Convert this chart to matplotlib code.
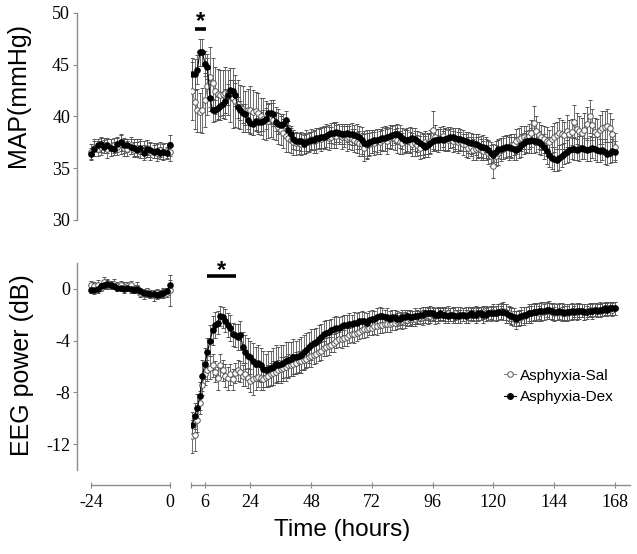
import matplotlib
matplotlib.use("Agg")
import matplotlib.pyplot as plt
from matplotlib.lines import Line2D
import numpy as np

plt.rcParams["axes.unicode_minus"] = False

# time axis: hourly baseline (-24..0) and hourly recovery (1..168)
base_hours = np.arange(-24, 1)
post_hours = np.arange(1, 169)

# ---------------- MAP (mmHg) ----------------
map_sal_base = [36.6, 37.0, 36.9, 37.1, 37.2, 36.9, 37.0, 37.2, 37.1, 37.3, 37.0, 36.9, 37.2,
                36.8, 37.0, 36.9, 36.8, 37.0, 36.6, 36.7, 36.5, 36.8, 36.6, 36.7, 36.6]
map_sal_base_err = [0.7, 0.8, 0.7, 0.8, 0.7, 0.9, 0.8, 0.7, 0.8, 0.9, 0.8, 0.7, 0.8,
                    0.7, 0.8, 0.9, 0.8, 0.7, 0.8, 0.7, 0.8, 0.7, 0.8, 0.7, 0.9]
map_dex_base = [36.4, 36.9, 37.2, 37.3, 37.1, 37.2, 37.0, 36.9, 37.3, 37.5, 37.2, 37.2, 37.1,
                37.0, 36.8, 37.0, 36.5, 36.9, 36.8, 36.6, 36.7, 36.5, 36.6, 36.5, 37.2]
map_dex_base_err = [0.6, 0.7, 0.6, 0.7, 0.6, 0.7, 0.8, 0.6, 0.7, 0.8, 0.7, 0.6, 0.7,
                    0.8, 0.7, 0.6, 0.7, 0.8, 0.7, 0.6, 0.7, 0.6, 0.7, 0.6, 1.0]

map_sal = [42.5, 41.4, 40.6, 40.4, 40.6, 41.6, 42.9, 43.8, 43.2, 42.5,
           42.2, 42.1, 42.2, 42.3, 42.3, 42.1, 41.8, 41.5, 41.2, 40.9,
           40.7, 40.5, 40.6, 40.6, 40.4, 40.5, 40.3, 40.0, 39.8, 39.6,
           39.6, 39.8, 39.7, 39.3, 39.0, 38.7, 38.4, 38.1, 37.9, 37.7,
           37.5, 37.4, 37.4, 37.3, 37.4, 37.6, 37.5, 37.8, 37.6, 37.7,
           37.9, 37.8, 38.0, 38.1, 37.9, 38.0, 38.2, 38.1, 38.3, 38.0,
           38.1, 37.9, 38.0, 37.8, 37.7, 37.5, 37.4, 37.3, 37.0, 37.2,
           37.3, 37.5, 37.4, 37.6, 37.5, 37.7, 37.8, 37.6, 37.9, 38.0,
           37.8, 37.7, 37.5, 37.4, 37.6, 37.7, 37.5, 37.3, 37.4, 37.2,
           37.0, 37.3, 37.5, 37.4, 37.6, 38.7, 38.0, 37.8, 37.9, 38.1,
           37.8, 37.7, 37.9, 37.6, 37.8, 37.5, 37.6, 37.3, 37.2, 37.0,
           37.1, 36.8, 36.9, 37.0, 36.8, 36.7, 36.8, 36.5, 36.2, 35.2,
           36.2, 36.5, 36.8, 36.9, 37.1, 37.0, 37.2, 37.3, 37.6, 37.8,
           37.9, 38.0, 37.8, 38.1, 38.4, 39.4, 38.6, 38.2, 38.0, 37.8,
           37.6, 37.5, 37.8, 38.0, 38.2, 38.4, 38.3, 38.2, 38.6, 38.3,
           38.5, 39.5, 38.8, 38.6, 38.4, 38.7, 39.3, 40.0, 39.2, 38.5,
           38.3, 38.7, 38.9, 39.0, 39.1, 38.9, 38.3, 37.1]
map_sal_err = [2.8, 2.6, 2.1, 1.9, 2.2, 2.6, 2.8, 2.9, 2.5, 2.3,
               2.4, 2.4, 2.3, 2.5, 2.2, 2.6, 2.9, 2.5, 2.3, 2.1,
               2.2, 2.0, 2.1, 2.3, 2.2, 1.9, 2.0, 1.8, 2.0, 1.9,
               1.7, 1.8, 1.9, 1.6, 1.7, 1.5, 1.4, 1.5, 1.3, 1.2,
               1.2, 1.1, 1.0, 1.0, 1.0, 1.1, 0.9, 1.0, 1.1, 1.2,
               1.0, 1.1, 1.0, 1.2, 1.1, 1.0, 1.2, 1.1, 1.0, 1.1,
               1.0, 1.2, 1.1, 1.0, 1.1, 1.0, 1.2, 1.1, 1.3, 1.2,
               1.1, 1.0, 1.1, 1.2, 1.1, 1.0, 1.1, 1.2, 1.0, 1.1,
               1.0, 1.2, 1.1, 1.0, 1.1, 1.2, 1.0, 1.1, 1.2, 1.0,
               1.1, 1.0, 1.1, 1.0, 1.1, 1.8, 1.2, 1.0, 1.1, 1.0,
               1.1, 1.0, 0.9, 1.0, 1.1, 1.0, 0.9, 1.0, 1.1, 1.0,
               0.9, 1.0, 1.1, 1.0, 1.0, 0.9, 1.0, 1.1, 1.0, 1.1,
               1.0, 1.2, 1.1, 1.0, 1.1, 1.2, 1.1, 1.0, 1.2, 1.1,
               1.2, 1.1, 1.3, 1.2, 1.3, 1.6, 1.4, 1.3, 1.2, 1.3,
               1.4, 1.2, 1.3, 1.4, 1.3, 1.5, 1.4, 1.3, 1.5, 1.4,
               1.3, 1.6, 1.5, 1.4, 1.5, 1.6, 1.6, 1.6, 1.5, 1.4,
               1.5, 1.4, 1.6, 1.5, 1.6, 1.4, 1.5, 1.3]

map_dex = [44.1, 44.1, 44.5, 46.2, 46.2, 45.1, 44.8, 41.8, 40.6, 40.6,
           40.8, 41.0, 41.2, 41.5, 42.1, 42.6, 42.5, 42.1, 40.9, 40.6,
           40.3, 40.2, 39.7, 39.4, 39.3, 39.6, 39.5, 39.5, 39.6, 39.8,
           40.3, 40.3, 40.2, 39.5, 39.3, 39.2, 39.3, 39.7, 38.7, 38.3,
           37.8, 37.6, 37.6, 37.6, 37.3, 37.5, 37.6, 37.7, 37.7, 37.9,
           37.9, 38.0, 38.0, 38.1, 38.3, 38.4, 38.4, 38.5, 38.4, 38.3,
           38.3, 38.4, 38.3, 38.3, 38.2, 38.1, 38.0, 37.7, 37.4, 37.3,
           37.5, 37.6, 37.7, 37.7, 37.8, 37.9, 37.9, 38.0, 38.1, 38.2,
           38.3, 38.3, 38.1, 37.9, 37.7, 37.7, 37.8, 37.9, 37.8, 37.6,
           37.4, 37.2, 37.1, 37.2, 37.4, 37.6, 37.7, 37.7, 37.8, 37.7,
           37.8, 37.9, 38.0, 38.0, 37.9, 37.8, 37.8, 37.7, 37.6, 37.5,
           37.4, 37.4, 37.3, 37.2, 37.1, 37.1, 37.0, 36.8, 36.5, 36.3,
           36.6, 36.9, 36.9, 37.0, 37.1, 37.1, 37.0, 36.9, 36.8, 37.0,
           37.2, 37.4, 37.6, 37.6, 37.7, 37.6, 37.6, 37.5, 37.3, 37.1,
           36.7, 36.3, 36.0, 35.9, 35.8, 36.0, 36.2, 36.4, 36.6, 36.8,
           36.9, 36.9, 36.8, 36.9, 37.0, 36.9, 36.8, 36.9, 37.0, 36.9,
           36.8, 36.7, 36.8, 36.6, 36.4, 36.5, 36.7, 36.6]
map_dex_err = [1.6, 1.5, 1.4, 1.3, 1.3, 1.2, 1.2, 1.3, 1.1, 1.0,
               1.1, 1.0, 1.1, 1.2, 1.0, 0.9, 1.0, 1.1, 1.0, 0.9,
               0.9, 1.0, 0.9, 1.0, 1.1, 0.9, 1.0, 0.9, 1.0, 1.0,
               0.9, 1.0, 1.1, 0.9, 1.0, 0.8, 0.9, 0.8, 0.9, 0.8,
               0.9, 0.8, 0.8, 0.9, 0.9, 0.8, 0.9, 0.8, 0.9, 1.0,
               0.9, 1.0, 1.1, 1.0, 0.9, 1.0, 1.1, 1.0, 0.9, 1.0,
               1.0, 0.9, 1.0, 1.1, 1.0, 1.2, 1.1, 1.3, 1.2, 1.4,
               1.2, 1.1, 1.0, 1.1, 1.0, 1.1, 1.2, 1.0, 1.1, 1.0,
               0.9, 1.0, 1.1, 1.0, 1.1, 1.0, 1.2, 1.0, 1.1, 1.0,
               1.1, 1.2, 1.0, 1.1, 1.0, 0.9, 1.0, 1.1, 1.0, 0.9,
               1.0, 1.1, 1.0, 0.9, 1.0, 1.1, 1.0, 1.0, 0.9, 1.0,
               1.0, 0.9, 1.0, 1.1, 1.0, 1.1, 1.0, 0.9, 1.0, 1.0,
               1.0, 0.9, 1.0, 1.1, 1.0, 0.9, 1.0, 1.1, 1.0, 1.0,
               1.1, 1.0, 1.0, 1.1, 1.2, 1.1, 1.0, 1.1, 1.0, 1.2,
               1.3, 1.2, 1.1, 1.2, 1.1, 1.2, 1.1, 1.0, 1.1, 1.2,
               1.0, 1.1, 1.0, 1.2, 1.1, 1.0, 1.1, 1.2, 1.0, 1.1,
               1.2, 1.1, 1.0, 1.2, 1.1, 1.0, 1.1, 1.0]

# ---------------- EEG power (dB) ----------------
eeg_sal_base = [0.3, 0.2, 0.3, 0.1, 0.5, 0.4, 0.3, 0.4, 0.2, 0.3, 0.1, 0.2, 0.3,
                0.0, 0.1, -0.3, -0.4, -0.2, -0.4, -0.5, -0.3, -0.4, -0.3, -0.3, -0.1]
eeg_sal_base_err = [0.3, 0.3, 0.4, 0.3, 0.4, 0.3, 0.3, 0.4, 0.3, 0.3, 0.4, 0.3, 0.3,
                    0.3, 0.4, 0.3, 0.4, 0.3, 0.3, 0.4, 0.3, 0.3, 0.4, 0.3, 1.2]
eeg_dex_base = [-0.1, -0.1, 0.0, 0.2, 0.3, 0.4, 0.3, 0.2, 0.1, 0.1, 0.0, 0.1, 0.0,
                -0.1, 0.0, -0.2, -0.3, -0.3, -0.4, -0.4, -0.5, -0.4, -0.3, -0.2, 0.3]
eeg_dex_base_err = [0.2, 0.3, 0.3, 0.2, 0.3, 0.4, 0.3, 0.2, 0.3, 0.3, 0.2, 0.3, 0.3,
                    0.2, 0.3, 0.3, 0.2, 0.3, 0.3, 0.2, 0.3, 0.2, 0.3, 0.3, 0.4]

eeg_sal = [-11.4, -11.3, -10.1, -8.8, -7.4, -6.6, -6.3, -6.1, -5.9, -6.4,
           -6.9, -5.9, -6.3, -6.7, -6.9, -6.6, -7.0, -6.5, -6.3, -6.4,
           -6.7, -6.6, -6.9, -7.1, -7.0, -6.9, -6.8, -6.9, -7.0, -6.8,
           -6.7, -6.6, -6.5, -6.4, -6.3, -6.2, -6.1, -6.0, -5.9, -5.9,
           -5.8, -5.7, -5.6, -5.6, -5.5, -5.4, -5.3, -5.2, -5.1, -5.0,
           -4.9, -4.8, -4.6, -4.5, -4.4, -4.3, -4.2, -4.0, -3.9, -3.9,
           -3.8, -3.7, -3.6, -3.5, -3.5, -3.4, -3.3, -3.2, -3.1, -3.1,
           -3.0, -3.0, -2.9, -2.9, -2.8, -2.8, -2.7, -2.7, -2.7, -2.6,
           -2.6, -2.5, -2.5, -2.5, -2.4, -2.4, -2.3, -2.3, -2.3, -2.2,
           -2.2, -2.2, -2.1, -2.1, -2.1, -2.0, -2.1, -2.0, -2.0, -1.9,
           -2.0, -1.9, -2.0, -2.0, -1.9, -2.0, -2.1, -2.0, -2.0, -1.9,
           -2.0, -1.9, -1.9, -2.0, -1.9, -1.8, -1.9, -1.9, -1.8, -1.8,
           -1.9, -1.8, -1.7, -1.7, -1.8, -1.9, -2.1, -2.3, -2.4, -2.3,
           -2.2, -2.1, -2.0, -1.9, -1.9, -1.8, -1.8, -1.9, -1.8, -1.8,
           -1.7, -1.7, -1.8, -1.9, -1.8, -1.8, -1.9, -1.8, -1.9, -1.8,
           -1.8, -1.7, -1.8, -1.7, -1.7, -1.8, -1.7, -1.6, -1.7, -1.6,
           -1.6, -1.7, -1.6, -1.6, -1.5, -1.5, -1.6, -1.5]
eeg_sal_err = [1.3, 1.2, 1.0, 0.9, 0.8, 0.8, 0.8, 0.9, 0.9, 0.8,
               0.9, 0.9, 0.8, 0.9, 0.9, 0.8, 0.8, 0.8, 0.8, 0.8,
               0.8, 0.9, 0.8, 0.9, 1.2, 0.9, 0.8, 0.9, 0.8, 0.8,
               0.8, 0.9, 0.9, 0.8, 0.8, 0.9, 0.8, 0.8, 0.9, 0.8,
               0.8, 0.8, 0.8, 0.7, 0.8, 0.7, 0.7, 0.8, 0.7, 0.7,
               0.7, 0.7, 0.6, 0.7, 0.7, 0.6, 0.7, 0.6, 0.6, 0.7,
               0.6, 0.7, 0.6, 0.6, 0.7, 0.6, 0.6, 0.6, 0.7, 0.6,
               0.6, 0.6, 0.6, 0.7, 0.6, 0.6, 0.6, 0.6, 0.6, 0.6,
               0.6, 0.6, 0.5, 0.6, 0.6, 0.5, 0.6, 0.6, 0.6, 0.5,
               0.5, 0.6, 0.5, 0.6, 0.5, 0.5, 0.6, 0.5, 0.5, 0.5,
               0.5, 0.6, 0.5, 0.5, 0.5, 0.6, 0.5, 0.5, 0.6, 0.5,
               0.5, 0.5, 0.6, 0.5, 0.5, 0.5, 0.6, 0.5, 0.5, 0.6,
               0.6, 0.6, 0.6, 0.7, 0.6, 0.6, 0.7, 0.6, 0.7, 0.6,
               0.6, 0.7, 0.6, 0.6, 0.7, 0.6, 0.6, 0.6, 0.7, 0.6,
               0.6, 0.6, 0.6, 0.5, 0.6, 0.6, 0.5, 0.6, 0.6, 0.6,
               0.6, 0.5, 0.6, 0.5, 0.5, 0.6, 0.5, 0.5, 0.5, 0.5,
               0.5, 0.5, 0.5, 0.5, 0.5, 0.5, 0.5, 0.5]

eeg_dex = [-10.5, -9.8, -9.2, -8.3, -6.7, -5.8, -4.9, -4.0, -3.2, -2.8,
           -2.6, -2.1, -2.2, -2.45, -2.8, -3.0, -3.5, -3.6, -3.7, -3.6,
           -4.5, -4.9, -5.2, -5.3, -5.6, -5.8, -5.7, -5.9, -6.2, -6.3,
           -6.2, -6.1, -6.0, -5.8, -5.9, -5.8, -5.7, -5.6, -5.5, -5.4,
           -5.3, -5.3, -5.2, -5.1, -4.9, -4.7, -4.5, -4.3, -4.2, -4.1,
           -3.9, -3.7, -3.5, -3.4, -3.3, -3.2, -3.1, -3.0, -3.0, -2.9,
           -2.8, -2.8, -2.7, -2.7, -2.6, -2.6, -2.5, -2.5, -2.5, -2.6,
           -2.4, -2.3, -2.3, -2.2, -2.1, -2.1, -2.2, -2.2, -2.3, -2.2,
           -2.2, -2.3, -2.3, -2.2, -2.2, -2.1, -2.2, -2.2, -2.1, -2.1,
           -2.0, -2.0, -1.9, -1.9, -1.9, -1.9, -2.0, -2.0, -1.9, -2.0,
           -2.0, -2.1, -2.0, -2.0, -2.1, -2.1, -2.0, -2.0, -2.1, -2.0,
           -1.9, -2.0, -2.0, -1.9, -1.9, -2.0, -2.0, -1.9, -1.9, -1.9,
           -1.9, -1.8, -1.8, -1.8, -1.9, -2.0, -2.1, -2.2, -2.3, -2.2,
           -2.1, -2.0, -2.0, -1.9, -1.9, -1.8, -1.8, -1.7, -1.7, -1.7,
           -1.6, -1.6, -1.7, -1.8, -1.8, -1.7, -1.8, -1.9, -1.8, -1.8,
           -1.7, -1.8, -1.7, -1.7, -1.7, -1.8, -1.8, -1.7, -1.7, -1.6,
           -1.7, -1.6, -1.6, -1.5, -1.6, -1.5, -1.5, -1.5]
eeg_dex_err = [1.0, 1.0, 1.1, 1.1, 1.2, 1.2, 1.1, 1.2, 1.1, 1.0,
               0.9, 0.8, 0.8, 0.9, 0.9, 1.0, 0.9, 0.9, 1.0, 1.1,
               1.2, 1.3, 1.4, 1.3, 1.4, 1.3, 1.4, 1.3, 1.4, 1.3,
               1.4, 1.3, 1.4, 1.5, 1.4, 1.5, 1.4, 1.5, 1.4, 1.3,
               1.4, 1.3, 1.3, 1.4, 1.3, 1.3, 1.2, 1.2, 1.1, 1.1,
               1.1, 1.0, 1.0, 1.0, 0.9, 0.9, 0.9, 0.9, 0.8, 0.8,
               0.8, 0.8, 0.8, 0.7, 0.8, 0.7, 0.7, 0.8, 0.7, 0.7,
               0.7, 0.7, 0.6, 0.7, 0.7, 0.6, 0.6, 0.7, 0.6, 0.6,
               0.6, 0.6, 0.5, 0.6, 0.6, 0.5, 0.6, 0.5, 0.6, 0.5,
               0.5, 0.6, 0.5, 0.5, 0.6, 0.5, 0.5, 0.6, 0.5, 0.5,
               0.6, 0.5, 0.5, 0.6, 0.5, 0.5, 0.6, 0.5, 0.5, 0.6,
               0.5, 0.5, 0.6, 0.5, 0.5, 0.6, 0.5, 0.5, 0.6, 0.5,
               0.6, 0.6, 0.5, 0.6, 0.7, 0.6, 0.6, 0.7, 0.6, 0.6,
               0.7, 0.6, 0.6, 0.7, 0.6, 0.7, 0.7, 0.6, 0.7, 0.7,
               0.6, 0.7, 0.6, 0.7, 0.6, 0.6, 0.7, 0.6, 0.6, 0.6,
               0.6, 0.5, 0.6, 0.6, 0.5, 0.6, 0.5, 0.5, 0.6, 0.5,
               0.5, 0.6, 0.5, 0.5, 0.5, 0.5, 0.5, 0.5]

for s in (map_sal, map_sal_err, map_dex, map_dex_err, eeg_sal, eeg_sal_err, eeg_dex, eeg_dex_err):
    assert len(s) == len(post_hours), len(s)

post_ticks = [6, 24, 48, 72, 96, 120, 144, 168]
base_ticks = [-24, 0]
series_names = ["Asphyxia-Sal", "Asphyxia-Dex"]

SERIF = "Liberation Serif"
SANS = "Liberation Sans"
GREY = "#8c8c8c"
EBAR = "#555555"

sal_style = dict(fmt="-o", ms=4.0, mfc="white", mec="#555555", mew=0.7, color="#777777",
                 lw=0.7, ecolor=EBAR, elinewidth=0.6, capsize=1.6, capthick=0.6)
dex_style = dict(fmt="-o", ms=4.0, mfc="black", mec="black", mew=0.7, color="black",
                 lw=0.8, ecolor=EBAR, elinewidth=0.6, capsize=1.6, capthick=0.6)

fig = plt.figure(figsize=(6.37, 5.54), dpi=100)
W, H = 637.0, 554.0


def box(x0, y0, x1, y1):
    return [x0 / W, 1 - y1 / H, (x1 - x0) / W, (y1 - y0) / H]


def draw(ax, x, sal, sal_e, dex, dex_e):
    ax.errorbar(x, sal, yerr=sal_e, **sal_style)
    ax.errorbar(x, dex, yerr=dex_e, **dex_style)


def style_left(ax, ylim, yticks):
    ax.set_xlim(-28.25, 1.8)
    ax.set_ylim(*ylim)
    ax.set_yticks(yticks)
    for sp in ("top", "right", "bottom"):
        ax.spines[sp].set_visible(False)
    ax.spines["left"].set_color(GREY)
    ax.spines["left"].set_linewidth(1.0)
    ax.tick_params(axis="y", colors=GREY, labelcolor="black", length=3, width=0.8,
                   labelsize=13, pad=2)
    for lab in ax.get_yticklabels():
        lab.set_family(SERIF)
    ax.patch.set_visible(False)


def style_right(ax, ylim):
    ax.set_xlim(0.5, 174)
    ax.set_ylim(*ylim)
    for sp in ("top", "right", "bottom", "left"):
        ax.spines[sp].set_visible(False)
    ax.set_yticks([])
    ax.patch.set_visible(False)


def style_xaxis(ax, ticks, bounds):
    ax.spines["bottom"].set_visible(True)
    ax.spines["bottom"].set_position(("outward", 10.8))
    ax.spines["bottom"].set_bounds(*bounds)
    ax.spines["bottom"].set_color(GREY)
    ax.spines["bottom"].set_linewidth(1.0)
    ax.set_xticks(ticks)
    ax.tick_params(axis="x", colors=GREY, labelcolor="black", direction="inout",
                   length=5, width=0.8, labelsize=13, pad=4)
    for lab in ax.get_xticklabels():
        lab.set_family(SERIF)


# top row: MAP
ax_tl = fig.add_axes(box(77, 13, 176, 220))
ax_tr = fig.add_axes(box(191, 13, 630, 220))
draw(ax_tl, base_hours, map_sal_base, map_sal_base_err, map_dex_base, map_dex_base_err)
draw(ax_tr, post_hours, map_sal, map_sal_err, map_dex, map_dex_err)
style_left(ax_tl, (30, 50), [30, 35, 40, 45, 50])
ax_tl.set_xticks([])
style_right(ax_tr, (30, 50))
ax_tr.set_xticks([])

# bottom row: EEG
ax_bl = fig.add_axes(box(77, 263, 176, 470))
ax_br = fig.add_axes(box(191, 263, 630, 470))
draw(ax_bl, base_hours, eeg_sal_base, eeg_sal_base_err, eeg_dex_base, eeg_dex_base_err)
draw(ax_br, post_hours, eeg_sal, eeg_sal_err, eeg_dex, eeg_dex_err)
style_left(ax_bl, (-14, 2), [-12, -8, -4, 0])
style_xaxis(ax_bl, base_ticks, (-24, 0))
style_right(ax_br, (-14, 2))
style_xaxis(ax_br, post_ticks, (0.5, 174))
ax_br.set_xticks([0.5], minor=True)
ax_br.tick_params(axis="x", which="minor", colors=GREY, direction="inout", length=5, width=0.8)

# significance markers
ax_tr.plot([2.1, 6.4], [48.45, 48.45], color="black", lw=2.6, solid_capstyle="butt", clip_on=False)
ax_tr.text(4.4, 49.2, "*", ha="center", va="center", fontsize=17, fontweight="bold",
           family=SANS, clip_on=False)
ax_br.plot([6.8, 18.3], [1.0, 1.0], color="black", lw=2.6, solid_capstyle="butt", clip_on=False)
ax_br.text(12.6, 1.4, "*", ha="center", va="center", fontsize=17, fontweight="bold",
           family=SANS, clip_on=False)

# labels
fig.text(18 / W, 1 - 95 / H, "MAP(mmHg)", rotation=90, ha="center", va="center",
         fontsize=18, family=SANS)
fig.text(22 / W, 1 - 365 / H, "EEG power (dB)", rotation=90, ha="center", va="center",
         fontsize=18, family=SANS)
fig.text(342 / W, 1 - 530 / H, "Time (hours)", ha="center", va="center",
         fontsize=17.5, family=SANS)

# legend
handles = [
    Line2D([], [], marker="o", ms=4.0, mfc="white", mec="#555555", mew=0.7, color="#777777", lw=0.7),
    Line2D([], [], marker="o", ms=4.0, mfc="black", mec="black", color="black", lw=0.8),
]
fig.legend(handles, series_names, loc="upper left", bbox_to_anchor=(496 / W, 1 - 361 / H),
           frameon=False, borderpad=0, handlelength=0.8, handletextpad=0.3,
           labelspacing=0.5, prop={"family": SANS, "size": 11})

fig.savefig("out.png", dpi=100)
